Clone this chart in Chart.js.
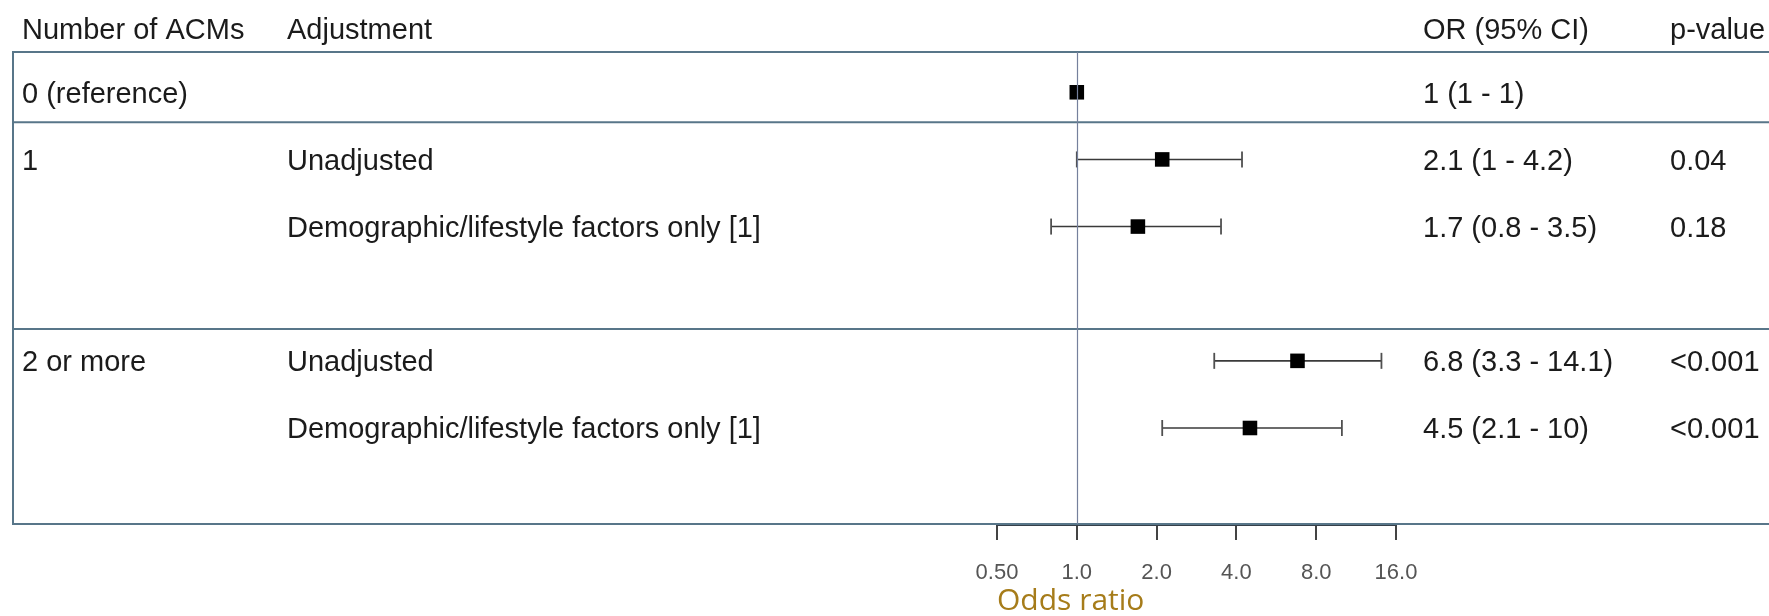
<!DOCTYPE html>
<html>
<head>
<meta charset="utf-8">
<script src="https://cdn.jsdelivr.net/npm/chart.js@4.4.1/dist/chart.umd.min.js"></script>
<style>
  html, body { margin: 0; padding: 0; background: #ffffff; }
  #wrap { width: 1769px; height: 616px; }
</style>
</head>
<body>
<div id="wrap"><canvas id="c" width="1769" height="616"></canvas></div>
<script>
// ---- data ----
const headers = ['Number of ACMs', 'Adjustment', 'OR (95% CI)', 'p-value'];
const groupLabels = ['0 (reference)', '1', '2 or more'];
const groupRows = [0, 1, 4];
const rowPositions = [0, 1, 2, 4, 5];
const adjustLabels = ['', 'Unadjusted', 'Demographic/lifestyle factors only [1]', 'Unadjusted', 'Demographic/lifestyle factors only [1]'];
const orValues = [1, 2.1, 1.7, 6.8, 4.5];
const ciLow = [1, 1, 0.8, 3.3, 2.1];
const ciHigh = [1, 4.2, 3.5, 14.1, 10];
const pValues = ['', '0.04', '0.18', '<0.001', '<0.001'];
const tickValues = [0.5, 1, 2, 4, 8, 16];
const tickLabels = ['0.50', '1.0', '2.0', '4.0', '8.0', '16.0'];
const separatorRows = [0.446, 3.527];
const axisTitle = 'Odds ratio';

// ---- style ----
const TEXT_FONT = '29px "Liberation Sans", Arial, sans-serif';
const TEXT_COLOR = '#1b1b1b';
const BOX_COLOR = '#587689';
const colX = [22, 287, 1423, 1670];
const TEXT_DY = 2.5;

const ciDatasets = [];
rowPositions.forEach((pos, i) => {
  if (ciHigh[i] > ciLow[i]) {
    ciDatasets.push({
      type: 'line',
      data: [{x: ciLow[i], y: pos}, {x: ciHigh[i], y: pos}],
      borderColor: '#3a3a3a',
      borderWidth: 1.6,
      pointStyle: 'line',
      rotation: 90,
      pointRadius: 8,
      pointBorderColor: '#505050',
      pointBorderWidth: 1.8,
      order: 2
    });
  }
});

const pointDataset = {
  type: 'scatter',
  data: rowPositions.map((pos, i) => ({x: orValues[i], y: pos})),
  pointStyle: 'rect',
  pointRadius: 10.3,
  backgroundColor: '#000000',
  borderWidth: 0,
  pointBorderWidth: 0,
  order: 1
};

const tablePlugin = {
  id: 'tablePlugin',
  beforeDatasetsDraw(chart) {
    const ctx = chart.ctx;
    const y = chart.scales.y;
    const area = chart.chartArea;
    ctx.save();
    ctx.strokeStyle = BOX_COLOR;
    ctx.lineWidth = 2;
    const lines = [area.top].concat(separatorRows.map(v => y.getPixelForValue(v))).concat([area.bottom]);
    lines.forEach(py => {
      ctx.beginPath();
      ctx.moveTo(12, py);
      ctx.lineTo(chart.width, py);
      ctx.stroke();
    });
    ctx.beginPath();
    ctx.moveTo(13, area.top);
    ctx.lineTo(13, area.bottom);
    ctx.stroke();
    ctx.restore();
  },
  afterDatasetsDraw(chart) {
    const ctx = chart.ctx;
    const x = chart.scales.x;
    const area = chart.chartArea;
    const px = Math.round(x.getPixelForValue(1)) + 0.5;
    ctx.save();
    ctx.strokeStyle = '#75809c';
    ctx.lineWidth = 1.2;
    ctx.beginPath();
    ctx.moveTo(px, area.top);
    ctx.lineTo(px, area.bottom);
    ctx.stroke();
    ctx.restore();
  },
  afterDraw(chart) {
    const ctx = chart.ctx;
    const y = chart.scales.y;
    ctx.save();
    ctx.font = TEXT_FONT;
    ctx.fillStyle = TEXT_COLOR;
    ctx.textBaseline = 'middle';
    ctx.textAlign = 'left';
    const hy = y.getPixelForValue(-0.95) + TEXT_DY;
    headers.forEach((h, i) => ctx.fillText(h, colX[i], hy));
    groupLabels.forEach((g, i) => ctx.fillText(g, colX[0], y.getPixelForValue(groupRows[i]) + TEXT_DY));
    rowPositions.forEach((pos, i) => {
      const py = y.getPixelForValue(pos) + TEXT_DY;
      if (adjustLabels[i]) ctx.fillText(adjustLabels[i], colX[1], py);
      ctx.fillText(orValues[i] + ' (' + ciLow[i] + ' - ' + ciHigh[i] + ')', colX[2], py);
      if (pValues[i]) ctx.fillText(pValues[i], colX[3], py);
    });
    ctx.restore();
  }
};

new Chart(document.getElementById('c'), {
  data: { datasets: ciDatasets.concat([pointDataset]) },
  options: {
    responsive: false,
    animation: false,
    events: [],
    layout: { padding: { left: 997, right: 373, top: 52, bottom: 0 } },
    plugins: { legend: { display: false }, tooltip: { enabled: false } },
    scales: {
      x: {
        type: 'logarithmic',
        min: 0.5,
        max: 16,
        afterBuildTicks(scale) { scale.ticks = tickValues.map(v => ({value: v})); },
        afterFit(scale) { scale.height = 92; },
        ticks: {
          autoSkip: false,
          maxRotation: 0,
          padding: 20,
          color: '#555555',
          font: { family: '"Liberation Sans", Arial, sans-serif', size: 22 },
          callback(value, index) { return tickLabels[index]; }
        },
        grid: { display: true, drawOnChartArea: false, drawTicks: true, tickLength: 16, color: '#444444', lineWidth: 2 },
        border: { display: true, color: '#36404a', width: 3 },
        title: {
          display: true,
          text: axisTitle,
          align: 'start',
          color: '#a67c1a',
          font: { family: '"Open Sans", "Noto Sans", sans-serif', size: 30, lineHeight: 1 },
          padding: { top: 0, bottom: 0 }
        }
      },
      y: {
        type: 'linear',
        display: false,
        reverse: true,
        min: -0.6,
        max: 6.43
      }
    }
  },
  plugins: [tablePlugin]
});
</script>
</body>
</html>
